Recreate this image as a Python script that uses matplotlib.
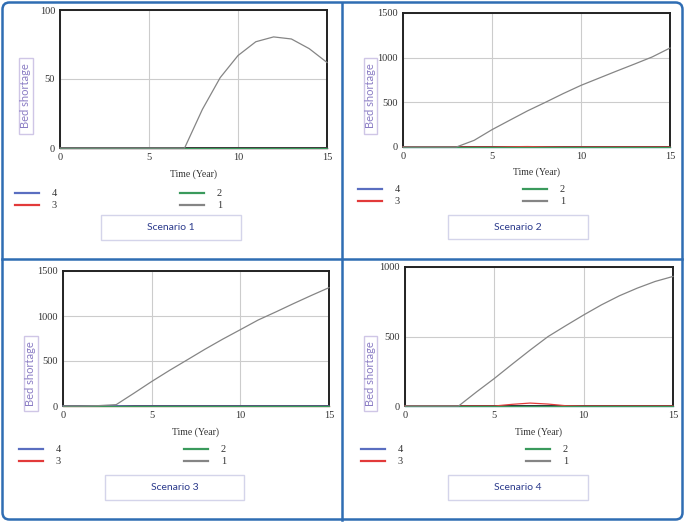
import matplotlib
matplotlib.use("Agg")
import matplotlib.pyplot as plt
from matplotlib.patches import FancyBboxPatch, Rectangle
import numpy as np

W, H = 685, 522

years = np.arange(0, 16)

# scenario 1
s1_line1 = [0, 0, 0, 0, 0, 0, 0, 0, 28, 51, 67, 77, 80.5, 79, 72, 62]
s1_line2 = [0] * 16
s1_line3 = [0] * 16
s1_line4 = [0] * 16

# scenario 2
s2_line1 = [0, 0, 0, 0, 75, 194, 300, 405, 500, 598, 690, 770, 850, 928, 1008, 1108]
s2_line2 = [0] * 16
s2_line3 = [0, 0, 0, 0, 0, 0, 3, 5, 2, 0, 0, 0, 0, 0, 0, 0]
s2_line4 = [0] * 16

# scenario 3
s3_line1 = [0, 0, 4, 15, 142, 272, 395, 512, 630, 742, 848, 955, 1045, 1138, 1228, 1315]
s3_line2 = [0] * 16
s3_line3 = [0] * 16
s3_line4 = [0, 0, 2, 4, 0, 0, 0, 0, 0, 0, 0, 0, 0, 0, 0, 0]

# scenario 4
s4_line1 = [0, 0, 0, 0, 101, 198, 301, 402, 499, 578, 655, 728, 793, 848, 896, 932]
s4_line2 = [0] * 16
s4_line3 = [0, 0, 0, 0, 0, 0, 12, 21, 14, 2, 0, 0, 0, 0, 0, 0]
s4_line4 = [0] * 16

scenario_names = ["Scenario 1", "Scenario 2", "Scenario 3", "Scenario 4"]
scenario_data = [
    [s1_line4, s1_line3, s1_line2, s1_line1],
    [s2_line4, s2_line3, s2_line2, s2_line1],
    [s3_line4, s3_line3, s3_line2, s3_line1],
    [s4_line4, s4_line3, s4_line2, s4_line1],
]
y_ticks = [[0, 50, 100], [0, 500, 1000, 1500], [0, 500, 1000, 1500], [0, 500, 1000]]
x_ticks = [0, 5, 10, 15]
series_labels = ["4", "3", "2", "1"]
series_colors = ["#5a6ec0", "#e23a3a", "#3a9a5c", "#858585"]

# pixel layouts: axes (l, t, r, b), ylabel box, legend x, legend rows, scenario box
layout = [
    dict(ax=(60, 10, 327, 148), ybox=(19, 58, 33, 134), xl=174, lx=15, rows=(193, 205), sbox=(101, 215, 241, 240)),
    dict(ax=(403, 13, 670, 147), ybox=(364, 58, 377, 134), xl=172, lx=358, rows=(189, 201), sbox=(448, 215, 588, 239)),
    dict(ax=(63, 271, 329, 406), ybox=(24, 336, 38, 411), xl=432, lx=19, rows=(449, 461), sbox=(105, 475, 244, 500)),
    dict(ax=(405, 267, 673, 406), ybox=(364, 336, 377, 411), xl=432, lx=361, rows=(449, 461), sbox=(448, 475, 588, 500)),
]

serif = "Liberation Serif"
sans = "Lato"

fig = plt.figure(figsize=(W / 100, H / 100), dpi=100)
fig.patch.set_facecolor("white")

ov = fig.add_axes([0, 0, 1, 1], zorder=0)
ov.set_xlim(0, W)
ov.set_ylim(H, 0)
ov.axis("off")

# outer frame and dividers
blue = "#2f6db3"
ov.add_patch(FancyBboxPatch((2.5, 2.5), W - 5, H - 5, boxstyle="round,pad=0,rounding_size=7",
                            fill=False, ec=blue, lw=1.8))
ov.plot([342.5, 342.5], [2.5, H - 2.5], color=blue, lw=1.8)
ov.plot([2.5, W - 2.5], [259, 259], color=blue, lw=1.8)


def axrect(l, t, r, b):
    return [l / W, 1 - b / H, (r - l) / W, (b - t) / H]


for i in range(4):
    L = layout[i]
    ax = fig.add_axes(axrect(*L["ax"]), zorder=1)
    ymax = y_ticks[i][-1]
    for j in range(4):
        ax.plot(years, scenario_data[i][j], color=series_colors[j], lw=0.9,
                clip_on=False, zorder=3 + j)
    ax.set_xlim(0, 15)
    ax.set_ylim(0, ymax)
    ax.set_xticks(x_ticks)
    ax.set_yticks(y_ticks[i])
    ax.grid(True, color="#cccccc", lw=0.8)
    ax.set_axisbelow(True)
    for sp in ax.spines.values():
        sp.set_linewidth(1.4)
        sp.set_color("#222222")
    ax.tick_params(length=0, pad=3.5, labelsize=7.5, colors="#333333")
    for lab in ax.get_xticklabels() + ax.get_yticklabels():
        lab.set_fontfamily(serif)

    l, t, r, b = L["ax"]
    ov.text((l + r) / 2, L["xl"], "Time (Year)", ha="center", va="center",
            fontsize=7, family=serif, color="#333333")

    # y label box
    bl, bt, br, bb = L["ybox"]
    ov.add_patch(Rectangle((bl, bt), br - bl, bb - bt, fill=False, ec="#cfc6e6", lw=1))
    ov.text((bl + br) / 2, (bt + bb) / 2, "Bed shortage", rotation=90, ha="center",
            va="center", fontsize=8, family=sans, color="#8a7cc4")

    # legend
    lx = L["lx"]
    for j in range(4):
        cx = lx + (j // 2) * 165
        cy = L["rows"][j % 2]
        ov.plot([cx, cx + 24], [cy, cy], color=series_colors[j], lw=1.6)
        ov.text(cx + 37, cy, series_labels[j], ha="left", va="center",
                fontsize=7.5, family=serif, color="#333333")

    # scenario box
    sl, st, sr, sb = L["sbox"]
    ov.add_patch(Rectangle((sl, st), sr - sl, sb - st, fill=False, ec="#d4d4ea", lw=1))
    ov.text((sl + sr) / 2, (st + sb) / 2, scenario_names[i], ha="center", va="center",
            fontsize=7.5, family=sans, color="#2b3a8c")

fig.savefig("out.png", dpi=100)
